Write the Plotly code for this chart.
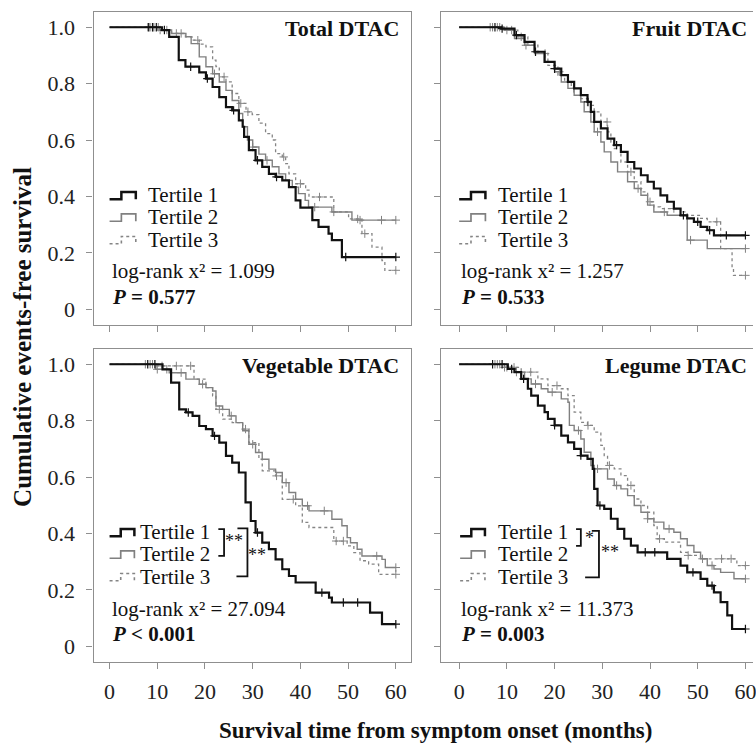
import numpy as np
import plotly.graph_objects as go

# ---------------- data ----------------
panel_titles = ["Total DTAC", "Fruit DTAC", "Vegetable DTAC", "Legume DTAC"]
series_names = ["Tertile 1", "Tertile 2", "Tertile 3"]
x_ticks = [0, 10, 20, 30, 40, 50, 60]
y_ticks = [0, 0.2, 0.4, 0.6, 0.8, 1.0]
y_tick_text = ["0", "0.2", "0.4", "0.6", "0.8", "1.0"]
end_time = 60
chi2_text = ["1.099", "1.257", "27.094", "11.373"]
p_text = ["= 0.577", "= 0.533", "< 0.001", "= 0.003"]

# Total DTAC
total_t1_time = [11.0, 12.5, 14.5, 15.9, 18.8, 20.2, 21.6, 23.0, 24.4, 25.7, 27.1, 27.9, 28.2, 29.2, 30.6, 32.0, 33.4, 34.8, 36.2, 37.6, 39.0, 40.0, 42.5, 43.8, 45.9, 46.6, 48.7]
total_t1_surv = [0.99, 0.966, 0.883, 0.86, 0.84, 0.818, 0.788, 0.752, 0.717, 0.705, 0.67, 0.647, 0.611, 0.564, 0.528, 0.505, 0.48, 0.469, 0.457, 0.433, 0.386, 0.36, 0.316, 0.292, 0.268, 0.245, 0.185]
total_t1_cens = [8.2, 9.0, 9.8, 11.5, 17.0, 20.5, 26.0, 31.0, 35.0, 49.5, 60]
total_t2_time = [10.5, 13.0, 16.0, 17.1, 18.8, 20.2, 21.6, 23.0, 24.4, 25.7, 27.1, 27.9, 28.9, 30.0, 31.3, 32.7, 34.1, 35.5, 36.9, 38.3, 39.6, 41.0, 41.7, 46.6, 50.8]
total_t2_surv = [0.99, 0.978, 0.966, 0.942, 0.895, 0.86, 0.835, 0.806, 0.776, 0.74, 0.694, 0.647, 0.6, 0.575, 0.55, 0.528, 0.505, 0.48, 0.457, 0.433, 0.41, 0.386, 0.362, 0.345, 0.316]
total_t2_cens = [8.5, 9.3, 10.2, 12.0, 15.0, 22.0, 30.0, 33.0, 43.0, 47.0, 52.5, 57.0, 60]
total_t3_time = [10.0, 13.0, 15.9, 17.3, 18.8, 20.2, 21.6, 22.3, 23.0, 24.4, 25.7, 27.1, 28.6, 29.9, 31.3, 32.7, 34.1, 34.8, 36.2, 36.9, 37.6, 39.0, 41.1, 41.8, 47.0, 50.1, 52.9, 55.0, 57.1, 57.7]
total_t3_surv = [0.99, 0.978, 0.966, 0.954, 0.94, 0.93, 0.883, 0.86, 0.824, 0.806, 0.765, 0.73, 0.70, 0.69, 0.66, 0.623, 0.60, 0.552, 0.54, 0.516, 0.48, 0.445, 0.422, 0.398, 0.345, 0.32, 0.268, 0.22, 0.172, 0.138]
total_t3_cens = [8.0, 9.1, 10.6, 14.0, 18.5, 24.0, 27.5, 29.0, 36.5, 40.0, 44.0, 52.0, 53.5, 60]

# Fruit DTAC
fruit_t1_time = [8.8, 11.6, 13.7, 15.8, 17.9, 20.0, 21.4, 22.8, 24.1, 25.5, 26.9, 27.6, 28.3, 29.7, 31.1, 32.5, 33.9, 35.3, 36.7, 38.1, 39.5, 40.8, 42.2, 43.6, 45.0, 46.4, 47.8, 49.2, 50.6, 52.0, 53.4]
fruit_t1_surv = [0.995, 0.972, 0.948, 0.913, 0.877, 0.853, 0.83, 0.806, 0.783, 0.759, 0.735, 0.70, 0.664, 0.641, 0.605, 0.582, 0.558, 0.522, 0.499, 0.475, 0.452, 0.428, 0.404, 0.381, 0.357, 0.333, 0.322, 0.31, 0.292, 0.28, 0.262]
fruit_t1_cens = [7.5, 9.0, 12.0, 16.0, 20.0, 27.0, 33.0, 47.0, 50.0, 52.5, 56.0, 60]
fruit_t2_time = [9.5, 11.6, 13.7, 15.8, 17.9, 20.0, 21.4, 22.8, 24.1, 25.5, 26.2, 27.6, 28.3, 29.7, 30.4, 31.8, 33.2, 35.3, 36.7, 38.1, 39.5, 40.8, 43.6, 47.8, 52.0]
fruit_t2_surv = [0.99, 0.96, 0.936, 0.907, 0.877, 0.842, 0.806, 0.783, 0.759, 0.735, 0.70, 0.664, 0.629, 0.593, 0.558, 0.522, 0.487, 0.452, 0.428, 0.404, 0.369, 0.345, 0.333, 0.245, 0.215]
fruit_t2_cens = [7.0, 8.5, 11.0, 14.0, 21.0, 29.0, 37.5, 43.0, 48.5, 60]
fruit_t3_time = [9.5, 12.3, 14.4, 16.5, 18.6, 20.7, 22.1, 23.5, 25.5, 26.9, 28.3, 29.7, 31.1, 31.8, 32.5, 33.9, 35.3, 36.7, 38.1, 39.5, 40.8, 42.2, 46.4, 47.8, 50.6, 52.0, 54.8, 57.2, 57.5]
fruit_t3_surv = [0.99, 0.966, 0.936, 0.907, 0.865, 0.83, 0.806, 0.783, 0.747, 0.723, 0.70, 0.664, 0.629, 0.593, 0.57, 0.522, 0.487, 0.452, 0.416, 0.381, 0.363, 0.357, 0.345, 0.333, 0.322, 0.31, 0.215, 0.144, 0.12]
fruit_t3_cens = [6.5, 8.0, 10.0, 13.0, 18.0, 24.0, 31.0, 36.0, 40.0, 45.0, 54.0, 60]

# Vegetable DTAC
veg_t1_time = [11.1, 12.9, 14.6, 16.0, 17.4, 18.8, 20.2, 21.6, 23.0, 24.4, 25.7, 27.1, 28.5, 29.6, 30.6, 32.0, 33.4, 34.8, 36.2, 37.6, 39.0, 43.2, 46.0, 46.6, 54.6, 57.1]
veg_t1_surv = [0.982, 0.935, 0.84, 0.829, 0.817, 0.781, 0.77, 0.746, 0.722, 0.675, 0.651, 0.616, 0.51, 0.444, 0.403, 0.367, 0.344, 0.308, 0.273, 0.249, 0.226, 0.19, 0.172, 0.155, 0.119, 0.078]
veg_t1_cens = [8.0, 9.5, 16.5, 22.0, 31.0, 44.5, 49.0, 52.0, 60]
veg_t2_time = [9.7, 12.5, 16.0, 18.8, 20.2, 21.6, 22.3, 23.7, 25.1, 26.5, 27.9, 29.2, 30.6, 32.0, 33.4, 34.8, 36.2, 37.6, 39.0, 40.4, 41.8, 46.6, 48.7, 49.8, 50.5, 51.9, 52.9, 57.1, 57.8]
veg_t2_surv = [0.982, 0.97, 0.947, 0.929, 0.917, 0.905, 0.852, 0.84, 0.817, 0.793, 0.764, 0.716, 0.687, 0.663, 0.628, 0.616, 0.58, 0.545, 0.521, 0.498, 0.48, 0.45, 0.427, 0.385, 0.367, 0.344, 0.32, 0.308, 0.279]
veg_t2_cens = [8.5, 10.0, 12.0, 15.0, 19.5, 25.5, 30.0, 37.0, 41.5, 45.0, 56.0, 60]
veg_t3_time = [9.7, 17.7, 20.2, 21.6, 22.3, 23.7, 25.7, 27.9, 29.2, 31.3, 32.0, 34.8, 36.2, 39.0, 40.4, 41.8, 47.0, 49.8, 51.2, 52.5, 54.3, 56.4]
veg_t3_surv = [0.994, 0.947, 0.917, 0.888, 0.84, 0.805, 0.793, 0.77, 0.722, 0.663, 0.622, 0.604, 0.521, 0.498, 0.439, 0.421, 0.373, 0.356, 0.332, 0.303, 0.291, 0.255]
veg_t3_cens = [7.5, 9.0, 11.0, 14.0, 17.0, 23.0, 28.5, 35.0, 38.5, 47.5, 49.0, 60]

# Legume DTAC
leg_t1_time = [10.2, 11.6, 13.0, 14.4, 15.1, 16.5, 17.9, 18.6, 20.0, 21.4, 22.8, 24.1, 25.5, 26.9, 28.0, 28.3, 29.0, 30.4, 31.8, 33.2, 34.6, 36.0, 37.4, 43.6, 46.4, 47.8, 50.6, 52.0, 53.4, 54.8, 56.2, 57.2]
leg_t1_surv = [0.983, 0.972, 0.948, 0.913, 0.889, 0.853, 0.83, 0.806, 0.783, 0.747, 0.723, 0.70, 0.676, 0.664, 0.629, 0.558, 0.499, 0.487, 0.452, 0.416, 0.381, 0.357, 0.333, 0.31, 0.286, 0.262, 0.239, 0.215, 0.191, 0.156, 0.109, 0.061]
leg_t1_cens = [7.0, 9.0, 11.0, 13.5, 20.0, 25.5, 29.5, 39.0, 41.0, 49.0, 53.0, 60]
leg_t2_time = [9.5, 11.6, 13.7, 15.1, 17.2, 18.6, 21.4, 22.8, 23.1, 24.1, 25.5, 26.2, 27.6, 28.3, 31.1, 32.5, 33.9, 35.3, 36.7, 38.1, 39.5, 40.8, 42.9, 45.0, 46.4, 47.8, 49.2, 50.6, 52.0, 53.4, 54.8, 57.6]
leg_t2_surv = [0.989, 0.972, 0.948, 0.93, 0.913, 0.901, 0.877, 0.865, 0.783, 0.765, 0.735, 0.688, 0.641, 0.629, 0.593, 0.57, 0.558, 0.534, 0.499, 0.475, 0.452, 0.44, 0.416, 0.404, 0.381, 0.357, 0.333, 0.31, 0.286, 0.274, 0.262, 0.239]
leg_t2_cens = [7.5, 8.5, 10.0, 12.0, 16.0, 19.5, 25.0, 29.0, 33.0, 39.5, 44.0, 53.0, 60]
leg_t3_time = [9.5, 13.0, 16.5, 18.6, 21.4, 22.8, 24.1, 25.5, 26.9, 28.3, 29.7, 30.4, 31.1, 32.5, 33.9, 35.3, 36.7, 38.1, 39.5, 40.8, 41.5, 43.0, 46.4, 47.8, 50.6, 58.2]
leg_t3_surv = [0.989, 0.972, 0.948, 0.924, 0.913, 0.889, 0.83, 0.794, 0.783, 0.759, 0.712, 0.676, 0.641, 0.629, 0.605, 0.57, 0.522, 0.499, 0.475, 0.428, 0.381, 0.369, 0.333, 0.322, 0.31, 0.286]
leg_t3_cens = [8.0, 9.5, 11.5, 15.0, 20.5, 27.0, 31.5, 36.0, 42.0, 48.0, 51.0, 55.0, 57.0, 60]

panels = [
    [(total_t1_time, total_t1_surv, total_t1_cens), (total_t2_time, total_t2_surv, total_t2_cens), (total_t3_time, total_t3_surv, total_t3_cens)],
    [(fruit_t1_time, fruit_t1_surv, fruit_t1_cens), (fruit_t2_time, fruit_t2_surv, fruit_t2_cens), (fruit_t3_time, fruit_t3_surv, fruit_t3_cens)],
    [(veg_t1_time, veg_t1_surv, veg_t1_cens), (veg_t2_time, veg_t2_surv, veg_t2_cens), (veg_t3_time, veg_t3_surv, veg_t3_cens)],
    [(leg_t1_time, leg_t1_surv, leg_t1_cens), (leg_t2_time, leg_t2_surv, leg_t2_cens), (leg_t3_time, leg_t3_surv, leg_t3_cens)],
]

# ---------------- styling ----------------
W, H = 756, 745
FONT = "Liberation Serif, DejaVu Serif, serif"
FRAME = "#8f8f8f"
TXT = "#111111"
LEG_SIZE = 21
styles = [
    dict(color="#111111", width=2.2, dash="solid"),
    dict(color="#808080", width=1.4, dash="solid"),
    dict(color="#858585", width=1.3, dash="dot"),
]

# panel frames in pixels (left, right, top, bottom)
frames = [(94, 413, 12, 325), (443, 756, 12, 325), (94, 413, 349, 662), (443, 756, 349, 662)]
x_zero_px = [110, 461, 110, 461]
px_per_month = 4.79
yr = [-0.056, 1.054]

fig = go.Figure()
layout = dict(width=W, height=H, margin=dict(l=0, r=0, t=0, b=0),
              paper_bgcolor="white", plot_bgcolor="white", showlegend=False,
              font=dict(family=FONT, color=TXT, size=21))
annotations = []
shapes = []


def step_value(times, surv, t):
    idx = np.searchsorted(np.asarray(times), t, side="right")
    return 1.0 if idx == 0 else surv[idx - 1]


for i in range(4):
    l, r, t, b = frames[i]
    xa = "xaxis" if i == 0 else f"xaxis{i + 1}"
    ya = "yaxis" if i == 0 else f"yaxis{i + 1}"
    xs = "x" if i == 0 else f"x{i + 1}"
    ys = "y" if i == 0 else f"y{i + 1}"
    x0 = -(x_zero_px[i] - l) / px_per_month
    x1 = (r - x_zero_px[i]) / px_per_month
    bottom = i >= 2
    left = i % 2 == 0
    layout[xa] = dict(domain=[l / W, r / W], range=[x0, x1], anchor=ys,
                      showline=True, mirror=True, linecolor=FRAME, linewidth=1.3,
                      ticks="outside", ticklen=6, tickwidth=1.2, tickcolor=FRAME,
                      tickvals=x_ticks, showticklabels=bottom, ticklabelstandoff=3,
                      ticklabeloverflow="allow",
                      tickfont=dict(family=FONT, size=22, color="#222"),
                      showgrid=False, zeroline=False, fixedrange=True)
    layout[ya] = dict(domain=[1 - b / H, 1 - t / H], range=yr, anchor=xs,
                      showline=True, mirror=left, linecolor=FRAME, linewidth=1.3,
                      ticks="outside", ticklen=6, tickwidth=1.2, tickcolor=FRAME,
                      tickvals=y_ticks, ticktext=y_tick_text, showticklabels=left,
                      ticklabelstandoff=7,
                      tickfont=dict(family=FONT, size=22, color="#222"),
                      showgrid=False, zeroline=False, fixedrange=True)

    # curves (draw tertile 3 first, tertile 1 on top)
    for k in [2, 1, 0]:
        times, surv, cens = panels[i][k]
        xs_line = [0] + list(times) + [end_time]
        ys_line = [1.0] + list(surv) + [surv[-1]]
        st = styles[k]
        fig.add_trace(go.Scatter(x=xs_line, y=ys_line, mode="lines", line_shape="hv",
                                 line=dict(color=st["color"], width=st["width"], dash=st["dash"]),
                                 xaxis=xs, yaxis=ys, hoverinfo="skip"))
        cy = [step_value(times, surv, c) for c in cens]
        fig.add_trace(go.Scatter(x=cens, y=cy, mode="markers",
                                 marker=dict(symbol="cross-thin", size=6,
                                             line=dict(color=st["color"], width=1.2 if k == 0 else 1.0)),
                                 xaxis=xs, yaxis=ys, hoverinfo="skip"))

    # panel title
    title_x = 61.0 if left else 60.8
    annotations.append(dict(x=title_x, y=0.995, xref=xs, yref=ys, text=f"<b>{panel_titles[i]}</b>",
                            showarrow=False, xanchor="right", yanchor="middle",
                            font=dict(family=FONT, size=22, color=TXT)))

    # legend
    rows = [0.404, 0.326, 0.246]
    if i == 2:
        icon_x = (0.0, 5.2)
        text_x = 6.0
        stat_y = (0.131, 0.043)
    elif i == 3:
        icon_x = (0.2, 5.4)
        text_x = 7.8
        stat_y = (0.131, 0.043)
    else:
        icon_x = (0.0, 5.5)
        text_x = 7.7
        stat_y = (0.136, 0.043)
    for k in range(3):
        st = styles[k]
        ya_ = rows[k]
        lo, hi = ya_ - 0.014, ya_ + 0.012
        xm = icon_x[0] + 0.45 * (icon_x[1] - icon_x[0])
        path = f"M {icon_x[0]},{lo} L {xm},{lo} L {xm},{hi} L {icon_x[1]},{hi} L {icon_x[1]},{lo}"
        shapes.append(dict(type="path", path=path, xref=xs, yref=ys,
                           line=dict(color=st["color"], width=st["width"] + 0.3, dash=st["dash"])))
        annotations.append(dict(x=text_x, y=ya_, xref=xs, yref=ys, text=series_names[k],
                                showarrow=False, xanchor="left", yanchor="middle",
                                font=dict(family=FONT, size=LEG_SIZE, color=TXT)))
    annotations.append(dict(x=0, y=stat_y[0], xref=xs, yref=ys,
                            text=f"log-rank x² = {chi2_text[i]}", showarrow=False,
                            xanchor="left", yanchor="middle", font=dict(family=FONT, size=LEG_SIZE, color=TXT)))
    annotations.append(dict(x=0, y=stat_y[1], xref=xs, yref=ys,
                            text=f"<b><i>P</i> {p_text[i]}</b>", showarrow=False,
                            xanchor="left", yanchor="middle", font=dict(family=FONT, size=LEG_SIZE, color=TXT)))

    # significance brackets
    if i in (2, 3):
        if i == 2:
            b1 = dict(x=24.0, xl=22.8, top=0.415, bot=0.32, sx=26.1, sy=0.372, s="**")
            b2 = dict(x=28.9, xl_top=26.8, xl_bot=26.6, top=0.418, bot=0.248, sx=31.0, sy=0.325, s="**")
        else:
            b1 = dict(x=25.5, xl=24.5, top=0.415, bot=0.356, sx=27.3, sy=0.385, s="*")
            b2 = dict(x=29.3, xl_top=27.8, xl_bot=26.4, top=0.409, bot=0.244, sx=31.6, sy=0.335, s="**")
        p1 = f"M {b1['xl']},{b1['top']} L {b1['x']},{b1['top']} L {b1['x']},{b1['bot']} L {b1['xl']},{b1['bot']}"
        p2 = f"M {b2['xl_top']},{b2['top']} L {b2['x']},{b2['top']} L {b2['x']},{b2['bot']} L {b2['xl_bot']},{b2['bot']}"
        for p in (p1, p2):
            shapes.append(dict(type="path", path=p, xref=xs, yref=ys, line=dict(color=TXT, width=1.8)))
        for bb in (b1, b2):
            annotations.append(dict(x=bb["sx"], y=bb["sy"], xref=xs, yref=ys, text=bb["s"],
                                    showarrow=False, xanchor="center", yanchor="middle",
                                    font=dict(family=FONT, size=18, color=TXT)))

# axis titles
annotations.append(dict(x=22 / W, y=1 - 337 / H, xref="paper", yref="paper",
                        text="<b>Cumulative events-free survival</b>", textangle=-90,
                        showarrow=False, xanchor="center", yanchor="middle",
                        font=dict(family=FONT, size=25, color=TXT)))
annotations.append(dict(x=437 / W, y=1 - 730 / H, xref="paper", yref="paper",
                        text="<b>Survival time from symptom onset (months)</b>",
                        showarrow=False, xanchor="center", yanchor="middle",
                        font=dict(family=FONT, size=23, color=TXT)))

layout["annotations"] = annotations
layout["shapes"] = shapes
fig.update_layout(**layout)
fig.write_html("out.html", config={"displayModeBar": False})
